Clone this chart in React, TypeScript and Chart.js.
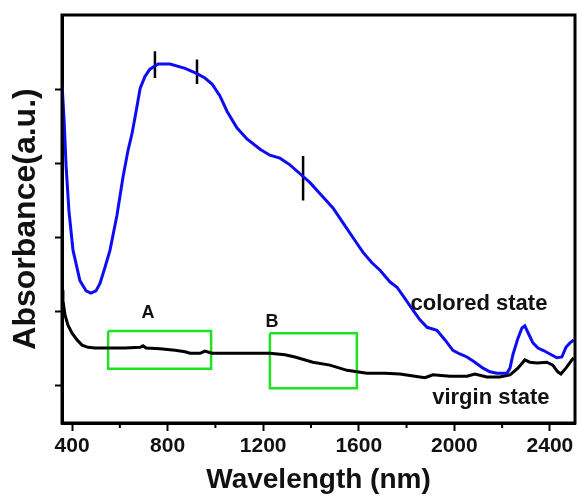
import { useEffect, useRef } from "react";
import { Chart, registerables } from "chart.js";
Chart.register(...registerables);

// Colored state (blue) spectrum
const coloredNm = [358, 367, 375, 387, 404, 433, 459, 479, 500, 517, 538, 559, 588, 613, 634, 651, 668, 685, 705, 726, 760, 810, 873, 923, 956, 986, 1019, 1049, 1090, 1132, 1187, 1228, 1270, 1312, 1354, 1396, 1438, 1492, 1542, 1584, 1618, 1655, 1689, 1731, 1760, 1793, 1827, 1856, 1886, 1927, 1961, 1994, 2023, 2053, 2086, 2120, 2149, 2178, 2220, 2233, 2245, 2266, 2283, 2295, 2308, 2329, 2350, 2371, 2400, 2429, 2450, 2467, 2484, 2500];
const coloredAbs = [4.08, 3.57, 2.97, 2.36, 1.83, 1.42, 1.28, 1.25, 1.28, 1.38, 1.6, 1.83, 2.3, 2.81, 3.17, 3.4, 3.7, 4.01, 4.17, 4.27, 4.34, 4.34, 4.28, 4.21, 4.15, 4.07, 3.91, 3.7, 3.48, 3.33, 3.19, 3.11, 3.07, 2.98, 2.86, 2.74, 2.59, 2.4, 2.16, 1.96, 1.8, 1.66, 1.56, 1.4, 1.33, 1.18, 1.02, 0.89, 0.79, 0.75, 0.62, 0.48, 0.43, 0.39, 0.32, 0.24, 0.19, 0.17, 0.17, 0.24, 0.42, 0.64, 0.78, 0.81, 0.72, 0.58, 0.51, 0.48, 0.43, 0.38, 0.39, 0.52, 0.58, 0.62];

// Virgin state (black) spectrum
const virginNm = [358, 362, 371, 383, 400, 421, 442, 467, 496, 559, 622, 685, 697, 710, 768, 831, 873, 894, 936, 956, 986, 1061, 1145, 1228, 1291, 1333, 1408, 1479, 1551, 1593, 1634, 1710, 1772, 1856, 1877, 1910, 1982, 2053, 2086, 2136, 2190, 2233, 2266, 2295, 2316, 2346, 2387, 2412, 2433, 2446, 2467, 2492, 2500];
const virginAbs = [1.29, 1.15, 0.95, 0.82, 0.71, 0.62, 0.55, 0.52, 0.51, 0.51, 0.51, 0.52, 0.54, 0.51, 0.5, 0.48, 0.46, 0.44, 0.44, 0.47, 0.44, 0.44, 0.44, 0.44, 0.42, 0.39, 0.32, 0.28, 0.21, 0.19, 0.17, 0.17, 0.16, 0.12, 0.11, 0.15, 0.13, 0.13, 0.16, 0.12, 0.12, 0.15, 0.24, 0.35, 0.32, 0.31, 0.32, 0.28, 0.19, 0.16, 0.24, 0.35, 0.38];

const xTickValues = [400, 800, 1200, 1600, 2000, 2400];
const xMinorTickValues = [600, 1000, 1400, 1800, 2200];
const yTickValues = [0, 1, 2, 3, 4];

// Highlight boxes A and B
const boxLabels = ["A", "B"];
const boxNmStart = [551, 1228];
const boxNmEnd = [982, 1592];
const boxAbsTop = [0.74, 0.71];
const boxAbsBottom = [0.23, -0.03];
const boxLabelNm = [718, 1237];
const boxLabelAbs = [0.98, 0.86];

// Vertical peak markers on colored curve
const markerNm = [747, 923, 1367];
const markerAbsTop = [4.51, 4.4, 3.1];
const markerAbsBottom = [4.15, 4.07, 2.5];

// Curve labels
const curveLabels = ["colored state", "virgin state"];
const curveLabelNm = [2103, 2153];
const curveLabelAbs = [1.11, -0.16];

const FONT = "'Liberation Sans', Arial, sans-serif";

export default function App() {
  const ref = useRef<HTMLCanvasElement | null>(null);
  useEffect(() => {
    document.body.style.margin = "0";
    const canvas = ref.current;
    if (!canvas) return;

    const datasets: any[] = [
      {
        data: coloredNm.map((x, i) => ({ x, y: coloredAbs[i] })),
        borderColor: "#0d0df2",
        borderWidth: 3,
        pointRadius: 0,
        tension: 0,
      },
      {
        data: virginNm.map((x, i) => ({ x, y: virginAbs[i] })),
        borderColor: "#000000",
        borderWidth: 3,
        pointRadius: 0,
        tension: 0,
      },
    ];
    boxLabels.forEach((_, i) => {
      datasets.push({
        data: [
          { x: boxNmStart[i], y: boxAbsTop[i] },
          { x: boxNmEnd[i], y: boxAbsTop[i] },
          { x: boxNmEnd[i], y: boxAbsBottom[i] },
          { x: boxNmStart[i], y: boxAbsBottom[i] },
          { x: boxNmStart[i], y: boxAbsTop[i] },
        ],
        borderColor: "#22e022",
        borderWidth: 2.5,
        pointRadius: 0,
        tension: 0,
        borderJoinStyle: "miter",
      });
    });
    markerNm.forEach((x, i) => {
      datasets.push({
        data: [
          { x, y: markerAbsTop[i] },
          { x, y: markerAbsBottom[i] },
        ],
        borderColor: "#000000",
        borderWidth: 2.5,
        pointRadius: 0,
      });
    });

    const annotate = {
      id: "annotate",
      afterDatasetsDraw(chart: any) {
        const { ctx, scales } = chart;
        const xs = scales.x, ys = scales.y;
        ctx.save();
        ctx.fillStyle = "#111";
        ctx.textAlign = "center";
        ctx.textBaseline = "middle";
        ctx.font = `bold 18px ${FONT}`;
        boxLabels.forEach((t, i) => {
          ctx.fillText(t, xs.getPixelForValue(boxLabelNm[i]), ys.getPixelForValue(boxLabelAbs[i]));
        });
        ctx.font = `bold 22px ${FONT}`;
        curveLabels.forEach((t, i) => {
          ctx.fillText(t, xs.getPixelForValue(curveLabelNm[i]), ys.getPixelForValue(curveLabelAbs[i]));
        });
        // frame
        const a = chart.chartArea;
        ctx.strokeStyle = "#000";
        ctx.lineWidth = 3;
        ctx.strokeRect(a.left, a.top, a.right - a.left, a.bottom - a.top);
        // minor x ticks
        ctx.lineWidth = 2;
        xMinorTickValues.forEach((v) => {
          const px = xs.getPixelForValue(v);
          ctx.beginPath();
          ctx.moveTo(px, a.bottom);
          ctx.lineTo(px, a.bottom + 5);
          ctx.stroke();
        });
        ctx.restore();
      },
    };

    const chart = new Chart(canvas, {
      type: "line",
      data: { datasets },
      plugins: [annotate],
      options: {
        animation: false,
        responsive: false,
        parsing: true,
        layout: { padding: { top: 15, right: 3, left: 0, bottom: 0 } },
        plugins: { legend: { display: false }, tooltip: { enabled: false } },
        scales: {
          x: {
            type: "linear",
            min: 358,
            max: 2505,
            afterBuildTicks: (s: any) => {
              s.ticks = xTickValues.map((value) => ({ value }));
            },
            afterFit: (s: any) => {
              s.height = 76;
            },
            ticks: {
              color: "#111",
              font: { family: FONT, size: 21, weight: "bold" },
              padding: 3,
              maxRotation: 0,
              autoSkip: false,
              callback: (v: any) => String(v),
            },
            grid: {
              drawOnChartArea: false,
              drawTicks: true,
              tickLength: 8,
              tickColor: "#000",
              tickWidth: 2,
            },
            border: { display: true, color: "#000", width: 3 },
            title: {
              display: true,
              text: "Wavelength (nm)",
              color: "#111",
              font: { family: FONT, size: 28, weight: "bold" },
              padding: { top: 0, bottom: 2 },
            },
          },
          y: {
            type: "linear",
            min: -0.5,
            max: 5,
            afterBuildTicks: (s: any) => {
              s.ticks = yTickValues.map((value) => ({ value }));
            },
            afterFit: (s: any) => {
              s.width = 62;
            },
            ticks: { display: false },
            grid: {
              drawOnChartArea: false,
              drawTicks: true,
              tickLength: 7,
              tickColor: "#000",
              tickWidth: 2,
            },
            border: { display: true, color: "#000", width: 3 },
            title: {
              display: true,
              text: "Absorbance(a.u.)",
              color: "#111",
              font: { family: FONT, size: 32, weight: "bold" },
              padding: { top: 7, bottom: 0 },
            },
          },
        },
      } as any,
    });
    return () => chart.destroy();
  }, []);

  return (
    <div style={{ width: 578, height: 499 }}>
      <canvas ref={ref} width={578} height={499} />
    </div>
  );
}
